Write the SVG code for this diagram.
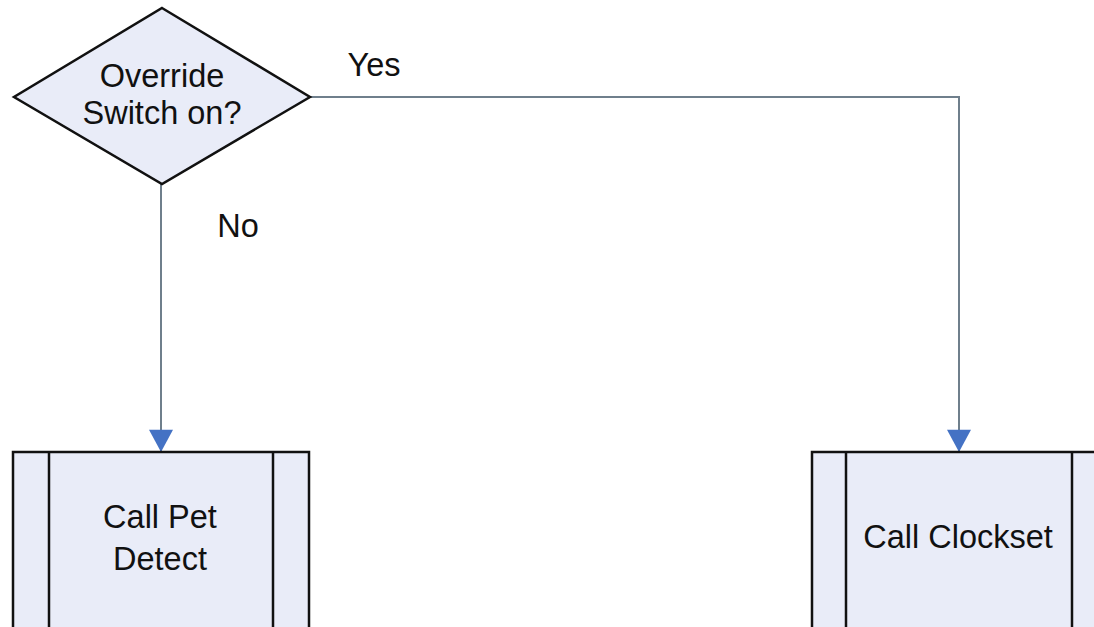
<svg xmlns="http://www.w3.org/2000/svg" width="1094" height="627" viewBox="0 0 1094 627">
<style>
.shape{fill:#e9ecf8;stroke:#111;stroke-width:2.5}
.div{stroke:#111;stroke-width:2.5;fill:none}
.conn{fill:none;stroke:#6f7f8c;stroke-width:2}
text{font-family:"Liberation Sans",Arial,sans-serif;font-size:32.5px;fill:#111;text-anchor:middle}
</style>
<defs>
<marker id="arr" markerUnits="userSpaceOnUse" markerWidth="26" markerHeight="24" refX="24" refY="13" orient="auto" viewBox="0 0 26 26">
<path d="M0,0 L24,13 L0,26 Z" fill="#4472c4"/>
</marker>
</defs>
<rect width="1094" height="627" fill="#fff"/>
<g id="connectors">
<path class="conn" d="M161,184 V452" marker-end="url(#arr)"/>
<path class="conn" d="M310,97 H959 V452" marker-end="url(#arr)"/>
<text x="238" y="237">No</text>
<text x="374" y="76">Yes</text>
</g>
<g id="decision">
<polygon class="shape" points="162,8 310,97 162,184 14,97"/>
<text x="162" y="87">Override</text>
<text x="162" y="124">Switch on?</text>
</g>
<g id="petdetect">
<rect class="shape" x="13" y="452" width="296" height="200"/>
<line class="div" x1="49" y1="452" x2="49" y2="640"/>
<line class="div" x1="273" y1="452" x2="273" y2="640"/>
<text x="160" y="528">Call Pet</text>
<text x="160" y="570">Detect</text>
</g>
<g id="clockset">
<rect class="shape" x="812" y="452" width="300" height="200"/>
<line class="div" x1="846" y1="452" x2="846" y2="640"/>
<line class="div" x1="1072" y1="452" x2="1072" y2="640"/>
<text x="958" y="548">Call Clockset</text>
</g>
</svg>
